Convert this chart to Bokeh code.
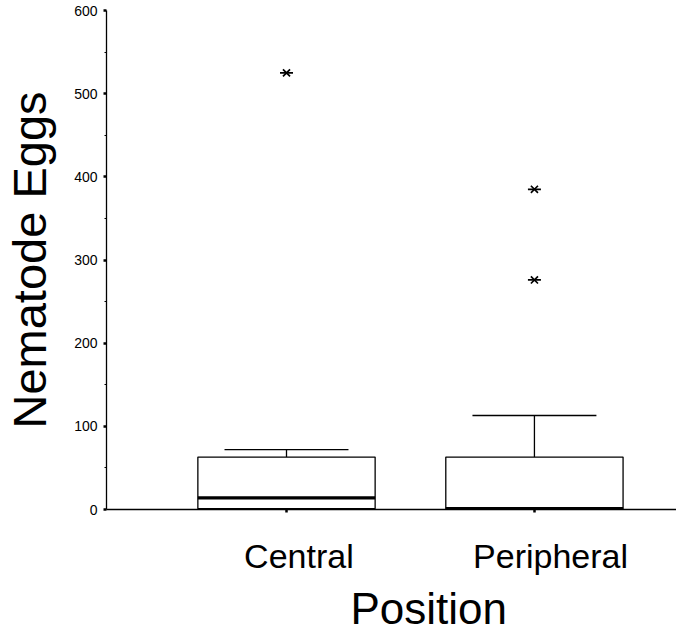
from bokeh.plotting import figure
from bokeh.models import Range1d, FixedTicker, LinearAxis, Title, ColumnDataSource
from bokeh.embed import file_html
from bokeh.resources import INLINE

# ---- data ----
categories = ["Central", "Peripheral"]
positions = [1, 2]
lower_whisker = [0, 0]
q1 = [1, 0]
median = [14, 1]
q3 = [63, 63]
upper_whisker = [72, 113]
outlier_pos = [1, 2, 2]
outlier_values = [525, 385, 276]
y_ticks = [0, 100, 200, 300, 400, 500, 600]

# ---- style ----
FONT = "Liberation Sans"
BOX_W = 0.715
CAP_W = 0.5
LABEL_SHIFT = [0.05, 0.065]
LW = 1.3

p = figure(width=676, height=640, output_backend="svg", toolbar_location=None,
           x_range=Range1d(0.274, 2.573), y_range=Range1d(0, 600),
           min_border_left=106, min_border_right=0, min_border_top=10,
           min_border_bottom=131)
p.outline_line_color = None
p.xgrid.visible = False
p.ygrid.visible = False

src = ColumnDataSource(dict(
    x=positions, q1=q1, q3=q3, med=median, lw=lower_whisker, uw=upper_whisker,
    bl=[x - BOX_W / 2 for x in positions], br=[x + BOX_W / 2 for x in positions],
    cl=[x - CAP_W / 2 for x in positions], cr=[x + CAP_W / 2 for x in positions],
))

# whiskers
p.segment(x0="x", y0="q3", x1="x", y1="uw", source=src, line_color="black", line_width=LW)
p.segment(x0="x", y0="lw", x1="x", y1="q1", source=src, line_color="black", line_width=LW)
p.segment(x0="cl", y0="uw", x1="cr", y1="uw", source=src, line_color="black", line_width=LW)
# boxes
p.quad(left="bl", right="br", bottom="q1", top="q3", source=src,
       fill_color="white", line_color="black", line_width=LW)
# medians
p.segment(x0="bl", y0="med", x1="br", y1="med", source=src, line_color="black", line_width=3.2)
# outliers
p.scatter(outlier_pos, outlier_values, marker="x", size=10, line_color="black", line_width=1.7)
p.scatter(outlier_pos, outlier_values, marker="dash", size=13, line_color="black", line_width=1.7)

# y axis
ya = p.yaxis[0]
ya.ticker = FixedTicker(ticks=y_ticks, minor_ticks=[50, 150, 250, 350, 450, 550])
ya.axis_line_width = LW
ya.axis_line_color = "black"
ya.major_tick_in = 0
ya.major_tick_out = 3
ya.major_tick_line_width = 2.5
ya.major_tick_line_color = "black"
ya.minor_tick_in = 0
ya.minor_tick_out = 2
ya.minor_tick_line_width = 1
ya.minor_tick_line_color = "black"
ya.major_label_text_font = FONT
ya.major_label_text_font_size = "14px"
ya.major_label_text_color = "black"
ya.major_label_standoff = 6
ya.axis_label = "Nematode Eggs"
ya.axis_label_text_font = FONT
ya.axis_label_text_font_style = "normal"
ya.axis_label_text_font_size = "47px"
ya.axis_label_text_color = "black"
ya.axis_label_standoff = 15

# x axis (tick marks)
xa = p.xaxis[0]
xa.ticker = FixedTicker(ticks=positions, minor_ticks=[])
xa.axis_line_width = LW
xa.axis_line_color = "black"
xa.major_tick_in = 0
xa.major_tick_out = 3
xa.major_tick_line_width = 2.5
xa.major_tick_line_color = "black"
xa.major_label_overrides = {t: "" for t in positions}
xa.major_label_text_font_size = "4px"
xa.major_label_standoff = 0

# category labels
shifted = [x + s for x, s in zip(positions, LABEL_SHIFT)]
lab = LinearAxis(ticker=FixedTicker(ticks=shifted, minor_ticks=[]),
                 major_label_overrides={t: c for t, c in zip(shifted, categories)})
lab.axis_line_color = None
lab.major_tick_line_color = None
lab.minor_tick_line_color = None
lab.major_label_text_font = FONT
lab.major_label_text_font_size = "34px"
lab.major_label_text_color = "black"
lab.major_label_standoff = 18
p.add_layout(lab, "below")

p.add_layout(Title(text="Position", align="left", offset=244, text_font=FONT,
                   text_font_size="44px", text_font_style="normal",
                   text_color="black", standoff=8), "below")

open("out.html", "w").write(file_html(p, INLINE))
